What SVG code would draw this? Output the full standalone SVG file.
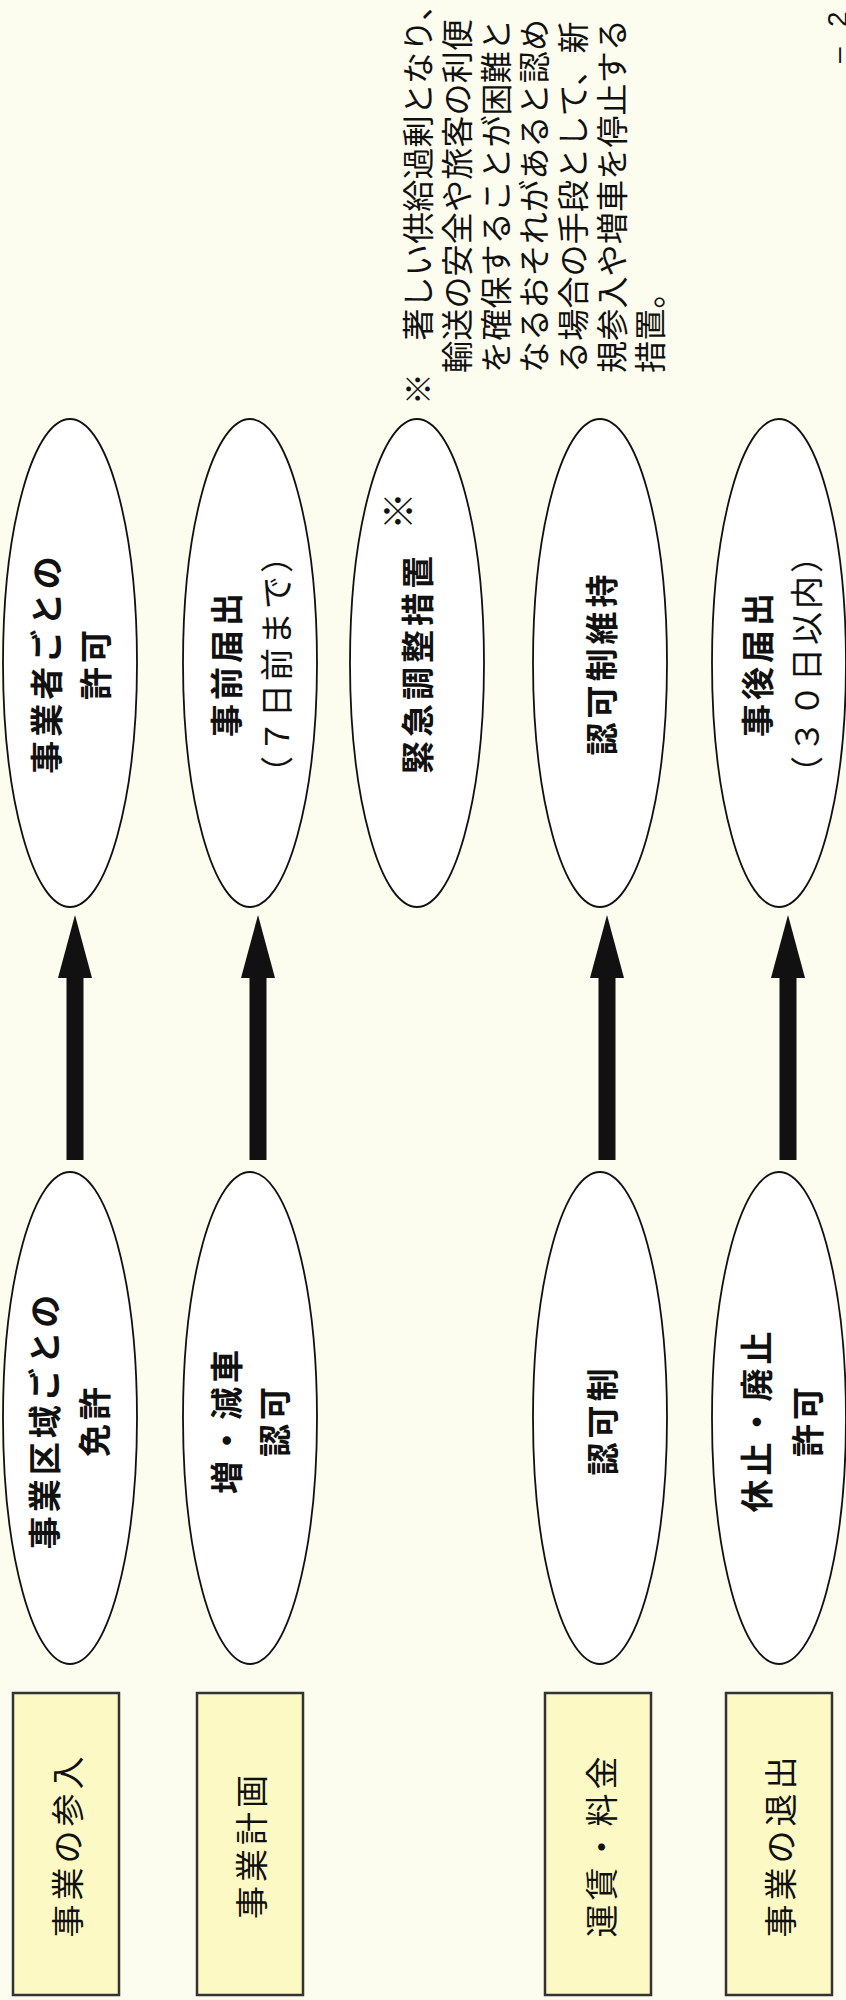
<svg xmlns="http://www.w3.org/2000/svg" width="846" height="2000" viewBox="0 0 846 2000">
  <style>
    .bg { fill: #FDFDEF; }
    .node ellipse { fill: #FFFFFF; stroke: #111111; stroke-width: 1.8; }
    .cat rect { fill: #FCF9C4; stroke: #333333; stroke-width: 2.5; }
    text { font-family: 'Liberation Sans', 'Noto Sans CJK JP', sans-serif; fill: #111111; }
    .lbl { font-size: 33px; font-weight: 700; letter-spacing: 4px; text-anchor: middle; }
    .sub { font-size: 33px; font-weight: 400; letter-spacing: 3px; text-anchor: middle; }
    .mark { font-size: 38px; font-weight: 700; text-anchor: middle; }
    .cattx { font-size: 33px; font-weight: 400; letter-spacing: 4px; text-anchor: middle; }
    .note { font-size: 32px; font-weight: 400; letter-spacing: 0.2px; }
    .pg { font-size: 28px; }
    .shaft { stroke: #111111; stroke-width: 17; fill: none; }
  </style>
  <defs>
    <marker id="head" markerUnits="userSpaceOnUse" markerWidth="63" markerHeight="34" refX="0" refY="17" orient="auto" viewBox="0 0 63 34">
      <path d="M0,0 L63,17 L0,34 Z" fill="#111111"/>
    </marker>
  </defs>
  <rect class="bg" x="0" y="0" width="846" height="2000"/>

  <!-- category boxes -->
  <g id="cat-entry" class="cat">
    <rect x="13" y="1693" width="106" height="302"/>
    <text class="cattx" transform="translate(79.5,1845) rotate(-90)">事業の参入</text>
  </g>
  <g id="cat-plan" class="cat">
    <rect x="197" y="1693" width="106" height="302"/>
    <text class="cattx" transform="translate(263.5,1845) rotate(-90)">事業計画</text>
  </g>
  <g id="cat-fare" class="cat">
    <rect x="545" y="1693" width="106" height="302"/>
    <text class="cattx" transform="translate(613.5,1845) rotate(-90)">運賃・料金</text>
  </g>
  <g id="cat-exit" class="cat">
    <rect x="726" y="1693" width="106" height="302"/>
    <text class="cattx" transform="translate(792.5,1845) rotate(-90)">事業の退出</text>
  </g>

  <!-- old system (bottom row) -->
  <g id="old-entry" class="node">
    <ellipse cx="70" cy="1418" rx="67" ry="246"/>
    <text class="lbl" transform="translate(56.5,1420) rotate(-90)">事業区域ごとの</text>
    <text class="lbl" transform="translate(106.5,1420) rotate(-90)">免許</text>
  </g>
  <g id="old-plan" class="node">
    <ellipse cx="250" cy="1418" rx="67" ry="246"/>
    <text class="lbl" transform="translate(238.5,1420) rotate(-90)">増・減車</text>
    <text class="lbl" transform="translate(286.5,1420) rotate(-90)">認可</text>
  </g>
  <g id="old-fare" class="node">
    <ellipse cx="600" cy="1418" rx="67" ry="246"/>
    <text class="lbl" transform="translate(614.5,1420) rotate(-90)">認可制</text>
  </g>
  <g id="old-exit" class="node">
    <ellipse cx="779" cy="1418" rx="67" ry="246"/>
    <text class="lbl" transform="translate(768.5,1420) rotate(-90)">休止・廃止</text>
    <text class="lbl" transform="translate(819.5,1420) rotate(-90)">許可</text>
  </g>

  <!-- new system (top row) -->
  <g id="new-entry" class="node">
    <ellipse cx="70" cy="663" rx="67" ry="244"/>
    <text class="lbl" transform="translate(58.5,663) rotate(-90)">事業者ごとの</text>
    <text class="lbl" transform="translate(107.5,663) rotate(-90)">許可</text>
  </g>
  <g id="new-plan" class="node">
    <ellipse cx="250" cy="663" rx="67" ry="244"/>
    <text class="lbl" transform="translate(238.5,663) rotate(-90)">事前届出</text>
    <text class="sub" transform="translate(288.5,663) rotate(-90)">（７日前まで）</text>
  </g>
  <g id="new-emergency" class="node">
    <ellipse cx="417" cy="663" rx="67" ry="244"/>
    <text class="lbl" transform="translate(429.5,663) rotate(-90)">緊急調整措置</text>
    <text class="mark" transform="translate(412,511) rotate(-90)">※</text>
  </g>
  <g id="new-fare" class="node">
    <ellipse cx="600" cy="663" rx="67" ry="244"/>
    <text class="lbl" transform="translate(613.5,663) rotate(-90)">認可制維持</text>
  </g>
  <g id="new-exit" class="node">
    <ellipse cx="779" cy="663" rx="67" ry="244"/>
    <text class="lbl" transform="translate(769.5,663) rotate(-90)">事後届出</text>
    <text class="sub" transform="translate(818.5,663) rotate(-90)">（３０日以内）</text>
  </g>

  <!-- connectors -->
  <g id="connectors">
    <line class="shaft" x1="75" y1="1160" x2="75" y2="978" marker-end="url(#head)"/>
    <line class="shaft" x1="258" y1="1160" x2="258" y2="978" marker-end="url(#head)"/>
    <line class="shaft" x1="607" y1="1160" x2="607" y2="978" marker-end="url(#head)"/>
    <line class="shaft" x1="788" y1="1160" x2="788" y2="978" marker-end="url(#head)"/>
  </g>

  <!-- note -->
  <g id="note">
    <text class="note" transform="translate(430.2,405) rotate(-90)">※　著しい供給過剰となり、</text>
    <text class="note" transform="translate(468.9,373) rotate(-90)">輸送の安全や旅客の利便</text>
    <text class="note" transform="translate(507.6,373) rotate(-90)">を確保することが困難と</text>
    <text class="note" transform="translate(546.3,373) rotate(-90)">なるおそれがあると認め</text>
    <text class="note" transform="translate(585.0,373) rotate(-90)">る場合の手段として、新</text>
    <text class="note" transform="translate(623.7,373) rotate(-90)">規参入や増車を停止する</text>
    <text class="note" transform="translate(662.4,373) rotate(-90)">措置。</text>
  </g>

  <!-- page number fragment -->
  <g id="page-number">
    <text class="pg" fill="#333333" transform="translate(847,63) rotate(-90)">–</text>
    <text class="pg" fill="#1F3C88" transform="translate(847,27) rotate(-90)">2</text>
  </g>
</svg>
